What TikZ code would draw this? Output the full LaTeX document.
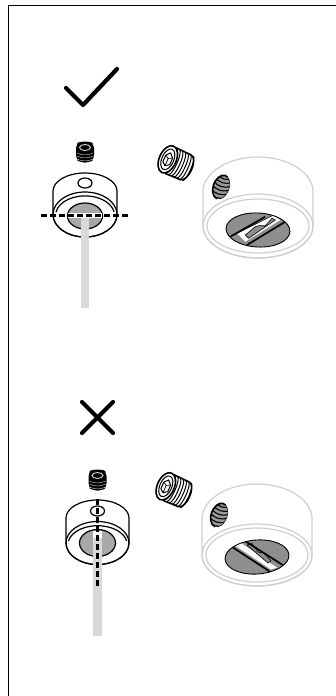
\documentclass[tikz,border=0pt]{standalone}
\usepackage{tikz}
\definecolor{rimgray}{HTML}{CFCFCF}
\definecolor{rodgray}{HTML}{D9D9D9}
\definecolor{holegray}{HTML}{A8A8A8}
\definecolor{darkhole}{HTML}{8E8E8E}

% x y: centre, upper y, lower y, rx, upper ry, lower ry
\newcommand{\collar}[7][black]{
    \draw[#1, fill=white, line width=1.2pt] (#2-#5,#3) arc[start angle=180, end angle=360, x radius=#5, y radius=#6]
        -- (#2+#5,#4) arc[start angle=0, end angle=180, x radius=#5, y radius=#7] -- cycle;
    \draw[#1, line width=1.2pt] (#2,#4) ellipse [x radius=#5, y radius=#7];
}
\newcommand{\smallscrew}[2]{
    \begin{scope}[shift={(#1,#2)}]
        \fill[black, rounded corners=4pt] (-9,-8) -- (-9,7) -- (-5,10.5) -- (5,10.5) -- (9,7) -- (9,-8) -- (5,-10.5) -- (-5,-10.5) -- cycle;
        \foreach \t in {1,4,7}
            \draw[white!70!black, line width=0.5pt] (-8,\t) .. controls (-4,\t+2.5) and (4,\t+2.5) .. (8,\t);
        \draw[white!85!black, line width=0.9pt] (0,-4.5) ellipse [x radius=5.5, y radius=3];
    \end{scope}
}
\newcommand{\bigscrew}[2]{
    \begin{scope}[shift={(#1,#2)}, rotate=-24]
        \fill[white] (-13,-14) rectangle (17,14);
        \foreach \t in {-5,-2,...,13}
            \draw[line width=1pt] (\t,-13.5) .. controls (\t+4,-12) and (\t+4,12) .. (\t,13.5);
        \draw[line width=1.5pt] (-6,-14) -- (11,-13.5) .. controls (19,-11) and (19,11) .. (11,13.5) -- (-6,14);
        \draw[line width=1.6pt, fill=white] (-9,0) ellipse [x radius=8.5, y radius=14.5];
        \draw[line width=1pt] (-9,0) ellipse [x radius=6, y radius=11];
        \draw[line width=1pt, fill=white] (-9,-7) -- (-5,-3) -- (-5,4) -- (-9,7) -- (-12.5,4) -- (-12.5,-3) -- cycle;
        \draw[line width=0.7pt] (-9,-1) -- (-5,-3) (-9,-1) -- (-12.5,-3) (-9,-1) -- (-9,7);
    \end{scope}
}
\newcommand{\threadhole}[2]{
    \begin{scope}[shift={(#1,#2)}, rotate=-20]
        \fill[white!60!black] (0,0) ellipse [x radius=8, y radius=12.5];
        \begin{scope}
            \clip (0,0) ellipse [x radius=8, y radius=12.5];
            \foreach \t in {-11,-7,...,12}
                \draw[line width=1.1pt] (-9,\t) .. controls (-3,\t+3.5) and (3,\t+3.5) .. (9,\t-1);
        \end{scope}
        \draw[line width=1.6pt] (3,-11.5) arc[start angle=-70, end angle=-270, x radius=8, y radius=12.3];
        \draw[line width=0.5pt] (3,-11.5) arc[start angle=-70, end angle=70, x radius=8, y radius=12.3];
    \end{scope}
}

\begin{document}
\begin{tikzpicture}
    [x=1pt, y=-1pt,
    frameline/.style={line width=1.5pt},
    tick/.style={line width=4.2pt, line cap=round, line join=round},
    rod/.style={fill=rodgray},
    cutline/.style={line width=2.4pt, dash pattern=on 6pt off 3pt},
    slotline/.style={line width=1.7pt},
    detail/.style={line width=0.6pt}]
    \useasboundingbox (0,0) rectangle (336,696);

    % frame
    \draw[frameline] (8.5,696) -- (8.5,5.5) -- (336,5.5);

    % good mounting
    \draw[tick] (66,88) -- (83,105) -- (117,69);
    \smallscrew{85}{152}
    \collar{85}{191}{214.5}{32}{18}{22.5}
    \draw[line width=1.2pt] (56,212) arc[start angle=190, end angle=350, x radius=29.5, y radius=19.5];
    \draw[line width=1.2pt] (85,183) ellipse [x radius=7, y radius=5];
    \draw[line width=1.2pt, fill=holegray] (85,216) ellipse [x radius=17.5, y radius=13];
    \fill[white] (68,213) rectangle (102,218);
    \fill[rod] (81,218) rectangle (89,308);
    \draw[cutline] (41,215.5) -- (129,215.5);

    \bigscrew{176}{163}
    \collar[rimgray]{258}{192}{226}{55}{35}{32}
    \draw[rimgray, line width=1.2pt] (258,226) ellipse [x radius=51, y radius=27];
    \threadhole{221}{187}
    \begin{scope}
        \clip (258,230) [rotate around={-3:(258,230)}] ellipse [x radius=32, y radius=17];
        \fill[darkhole] (220,205) rectangle (296,255);
        \fill[white] (237,233.3) -- (273.7,215) -- (280.3,220) -- (245.3,241.7) -- cycle;
        \fill[darkhole, draw=black, detail] (245.3,235) -- (255.3,226.7) -- (258.7,225.7) -- (265.3,225.7) -- (272,218.3) -- (275.3,220) -- (248.7,238.3) -- cycle;
        \draw[detail] (237,233.3) -- (273.7,215);
        \draw[slotline] (230.3,236.7) -- (265.3,216.7);
        \draw[slotline] (247,245) -- (285.3,221.7);
    \end{scope}
    \draw[line width=0.9pt] (258,230) [rotate around={-3:(258,230)}] ellipse [x radius=32, y radius=17];

    % wrong mounting
    \draw[tick] (82,402) -- (113,433);
    \draw[tick] (113,402) -- (82,433);
    \smallscrew{97.5}{480}
    \collar{97.5}{518}{543}{31.5}{18}{21.5}
    \draw[line width=1.2pt] (68.5,541) arc[start angle=190, end angle=350, x radius=29.5, y radius=18.5];
    \draw[line width=1.2pt] (97.5,511) ellipse [x radius=7, y radius=5];
    \draw[line width=1.2pt, fill=holegray] (97.5,543) ellipse [x radius=18, y radius=13.5];
    \fill[white] (93,530.5) rectangle (102,538);
    \fill[rod] (93,538) rectangle (102,636);
    \draw[cutline] (97.5,499) -- (97.5,588);

    \bigscrew{174}{490}
    \collar[rimgray]{257}{519}{555}{55}{35}{31}
    \draw[rimgray, line width=1.2pt] (257,555) ellipse [x radius=51, y radius=27];
    \threadhole{219}{515}
    \begin{scope}
        \clip (257,557) [rotate around={4:(257,557)}] ellipse [x radius=32, y radius=17];
        \fill[darkhole] (220,535) rectangle (295,580);
        \fill[white] (235,545.5) -- (241,543) -- (277,567.5) -- (271,569.5) -- cycle;
        \fill[darkhole, draw=black, detail] (247,545) -- (252,543.5) -- (258,552) -- (264,553) -- (271,561) -- (268,563) -- cycle;
        \draw[slotline] (245,541) -- (282.7,565);
        \draw[slotline] (231.7,546.7) -- (270,571.7);
    \end{scope}
    \draw[line width=0.9pt] (257,557) [rotate around={4:(257,557)}] ellipse [x radius=32, y radius=17];
\end{tikzpicture}
\end{document}
